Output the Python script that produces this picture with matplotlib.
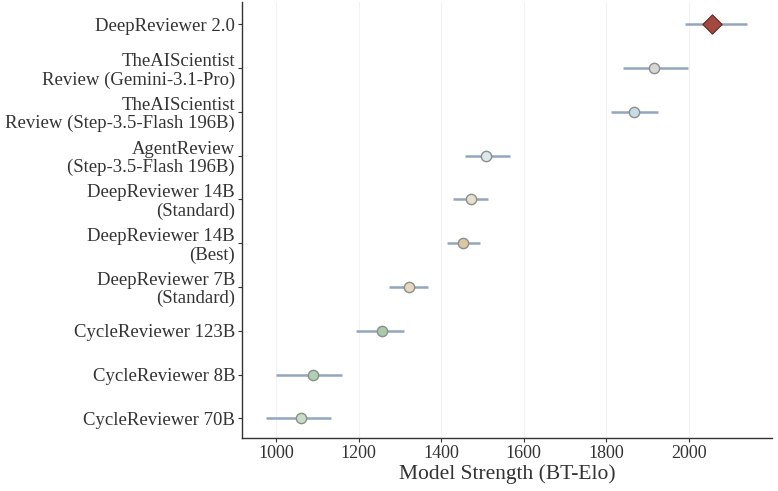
import matplotlib
matplotlib.use("Agg")
import matplotlib.pyplot as plt
import numpy as np

models = [
    "DeepReviewer 2.0",
    "TheAIScientist\nReview (Gemini-3.1-Pro)",
    "TheAIScientist\nReview (Step-3.5-Flash 196B)",
    "AgentReview\n(Step-3.5-Flash 196B)",
    "DeepReviewer 14B\n(Standard)",
    "DeepReviewer 14B\n(Best)",
    "DeepReviewer 7B\n(Standard)",
    "CycleReviewer 123B",
    "CycleReviewer 8B",
    "CycleReviewer 70B",
]
elo = [2056, 1915, 1866, 1509, 1472, 1453, 1322, 1258, 1089, 1062]
ci_low = [1990, 1841, 1810, 1458, 1429, 1414, 1273, 1195, 1000, 975]
ci_high = [2140, 1998, 1924, 1566, 1514, 1494, 1367, 1310, 1161, 1133]
fills = ["#a24a42", "#d6d6d4", "#c8dbe9", "#dde7ee", "#e8decd", "#dcc6a4",
         "#e8d7bf", "#a8caa8", "#b1d0b1", "#c6ddc6"]
xticks = [1000, 1200, 1400, 1600, 1800, 2000]

plt.rcParams['font.family'] = ['Liberation Serif', 'DejaVu Serif']

fig, ax = plt.subplots(figsize=(7.78, 4.91), dpi=100)
fig.subplots_adjust(left=0.311, right=0.992, top=0.995, bottom=0.108)

y = np.arange(len(models))
for i in range(len(models)):
    ax.plot([ci_low[i], ci_high[i]], [y[i], y[i]], color="#93a6bd", lw=1.8,
            solid_capstyle='butt', zorder=2)
    if i == 0:
        ax.scatter(elo[i], y[i], marker='D', s=95, color=fills[i],
                   edgecolor="#6b2a25", linewidth=0.9, zorder=3)
    else:
        ax.scatter(elo[i], y[i], marker='o', s=55, color=fills[i],
                   edgecolor="#8a8f8a", linewidth=1.0, zorder=3)

ax.set_yticks(y)
ax.set_yticklabels(models, fontsize=13.5, linespacing=1.1)
ax.set_ylim(9.45, -0.5)
ax.set_xlim(918, 2200)
ax.set_xticks(xticks)
ax.set_xticklabels([str(t) for t in xticks], fontsize=13)
ax.set_xlabel("Model Strength (BT-Elo)", fontsize=15.5, labelpad=2,
              color="#333333")
ax.grid(axis='x', color="#f2f2f2", lw=0.8, zorder=0)
ax.set_axisbelow(True)
for s in ['top', 'right']:
    ax.spines[s].set_visible(False)
for s in ['left', 'bottom']:
    ax.spines[s].set_color("#333333")
    ax.spines[s].set_linewidth(1.0)
ax.tick_params(axis='both', length=3, width=0.8, color="#333333",
               labelcolor="#333333", pad=2)

fig.savefig("out.png", dpi=100)
